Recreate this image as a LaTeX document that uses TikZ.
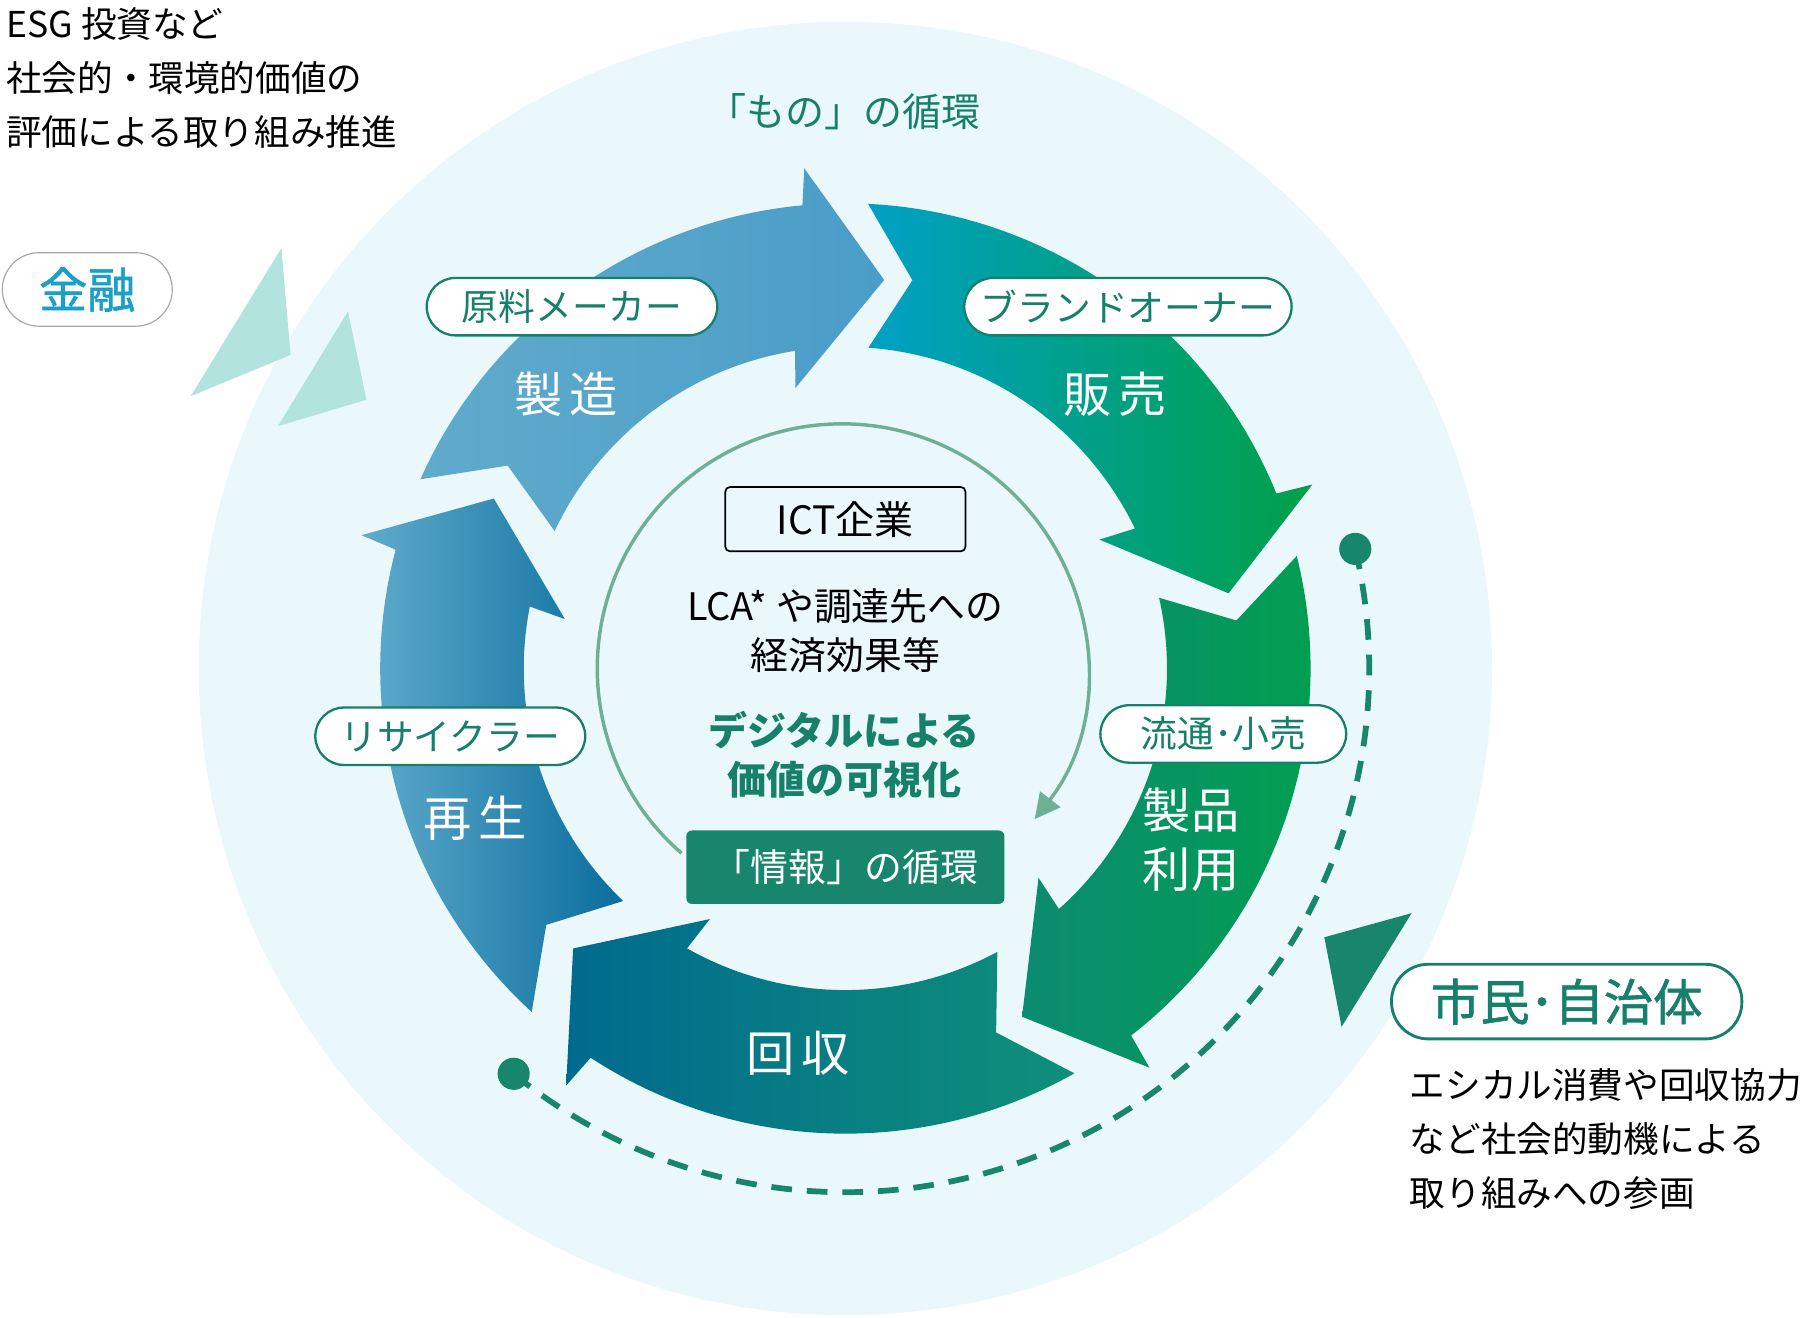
\documentclass[tikz,border=0pt]{standalone}
\usepackage{fontspec}
\setmainfont{Noto Sans CJK JP}
\newfontfamily\medjp[FakeBold=1.2]{Noto Sans CJK JP}
\usetikzlibrary{calc,arrows.meta}

\definecolor{bgcirc}{HTML}{EAF8FC}
\definecolor{tealtext}{HTML}{16806A}
\definecolor{tealbox}{HTML}{17866D}
\definecolor{lighttri}{HTML}{B2E3DC}
\definecolor{infogreen}{HTML}{6FAF95}
\definecolor{kinyublue}{HTML}{1A9FC9}
\definecolor{seizoL}{HTML}{60ABCC}
\definecolor{seizoR}{HTML}{4A9DC8}
\definecolor{hanbaiL}{HTML}{00A0C6}
\definecolor{hanbaiR}{HTML}{00A048}
\definecolor{riyoL}{HTML}{0B8B71}
\definecolor{riyoR}{HTML}{00A04D}
\definecolor{kaishuL}{HTML}{006A8E}
\definecolor{kaishuR}{HTML}{0F9078}
\definecolor{saiseiL}{HTML}{63AECE}
\definecolor{saiseiR}{HTML}{0A6D9D}

% ring arrow around (736,582): tail angle : tip angle
\def\cyclearrow[#1](#2:#3){%
  \pgfmathsetmacro\nA{#2+7}%
  \pgfmathsetmacro\iA{#2+1.3}%
  \pgfmathsetmacro\hoA{#3-11}%
  \pgfmathsetmacro\hiA{#3-14.7}%
  \pgfmathsetmacro\boA{#3-10.4}%
  \pgfmathsetmacro\biA{#3-15.8}%
  \shade[#1,shift={(736,582)}] (#2:405) arc[start angle=#2, end angle=\hoA, radius=405]
    -- (\boA:437) -- (#3:340) -- (\biA:248) -- (\hiA:280)
    arc[start angle=\hiA, end angle=\iA, radius=280] -- (\nA:343) -- cycle;}

\tikzset{
  pill/.style={draw=tealtext, line width=2pt, fill=white, rounded corners=25pt,
    minimum height=50pt, inner sep=0pt, text=tealtext, font=\fontsize{32}{32}\selectfont},
  stage/.style={text=white, font=\fontsize{42}{51}\selectfont, align=center},
  bodytext/.style={anchor=west, align=left, font=\fontsize{31}{47}\selectfont},
  dot/.style={circle, fill=tealbox, minimum size=28pt, inner sep=0pt},
  dashline/.style={tealbox, line width=5pt, dash pattern=on 18pt off 13pt},
  infoarc/.style={infogreen, line width=3pt, -{Triangle[length=22pt,width=22pt]}}
}

\begin{document}
\begin{tikzpicture}[x=1pt, y=-1pt]
		%%%%% START %%%%%
		\useasboundingbox (0,0) rectangle (1568,1147);
		\coordinate (C) at (736,582);
		\coordinate (I) at (733,582);
		
		\fill[bgcirc] (C) circle (563);
		
		\fill[lighttri] (245,216) -- (253,309) -- (166,345) -- cycle;
		\fill[lighttri] (303,271) -- (319,348) -- (242,371) -- cycle;
		\fill[tealbox] (1229,795) -- (1153,816) -- (1168,894) -- cycle;
		
		% the five stages
		\cyclearrow[left color=seizoL, right color=seizoR](204:275.7)
		\cyclearrow[left color=hanbaiL, right color=hanbaiR](272.8:348.9)
		\cyclearrow[left color=riyoL, right color=riyoR](346:423.1)
		\cyclearrow[left color=kaishuL, right color=kaishuR](60.5:134.2)
		\cyclearrow[left color=saiseiL, right color=saiseiR](132.4:205.8)
		
		% information loop
		\draw[infoarc] ($(I)+(131:213)$) arc[start angle=131, end angle=398, radius=213];
		
		% dashed path of citizens
		\node[dot] (dotA) at ($(C)+(-13.2:456)$) {};
		\node[dot] (dotB) at ($(C)+(129.3:456)$) {};
		\draw[dashline] (dotA.center) arc[start angle=-13.2, end angle=129.3, radius=456];
		
		\node[bodytext] (esg) at (2,68) {ESG 投資など\\社会的・環境的価値の\\評価による取り組み推進};
		\node[draw=gray!70, line width=1pt, fill=white, rounded corners=32pt, minimum width=148pt,
		  minimum height=64pt, text=kinyublue, font=\fontsize{42}{42}\medjp] (kinyu) at (76,252) {金融};
		\node[text=tealtext, font=\fontsize{34}{34}\selectfont] (monotitle) at (735,97) {「もの」の循環};
		
		\node[pill, minimum width=253pt] (genryo) at (498,267) {原料メーカー};
		\node[pill, minimum width=285pt] (brand) at (982,267) {ブランドオーナー};
		\node[pill, minimum width=214pt] (ryutsu) at (1065,639) {流通･小売};
		\node[pill, minimum width=235pt] (recycler) at (392,641) {リサイクラー};
		\node[pill, minimum width=305pt, minimum height=65pt, rounded corners=32pt, line width=2.5pt,
		  font=\fontsize{43}{43}\medjp] (shimin) at (1364,872) {市民･自治体};
		
		\node[stage] (seizo) at (493,343) {製\hspace{6pt}造};
		\node[stage] (hanbai) at (971,343) {販\hspace{6pt}売};
		\node[stage] (riyo) at (1037,731) {製品\\利用};
		\node[stage] (kaishu) at (695,917) {回\hspace{6pt}収};
		\node[stage] (saisei) at (414,712) {再\hspace{6pt}生};
		
		\node[draw=black, line width=1.5pt, rounded corners=4pt, minimum width=209pt, minimum height=56pt,
		  font=\fontsize{34}{34}\selectfont] (ict) at (736,452) {ICT企業};
		\node[align=center, font=\fontsize{33}{43}\selectfont] (lca) at (736,549) {LCA* や調達先への\\経済効果等};
		\node[align=center, text=tealtext, font=\fontsize{34}{43}\selectfont\bfseries] (digital) at (735,657) {デジタルによる\\価値の可視化};
		\node[fill=tealbox, rounded corners=5pt, minimum width=277pt, minimum height=64pt, text=white,
		  font=\fontsize{33}{33}\selectfont] (joho) at (736,755) {「情報」の循環};
		
		\node[bodytext] (ethical) at (1224,992) {エシカル消費や回収協力\\など社会的動機による\\取り組みへの参画};
		%%%%% END %%%%%
	\end{tikzpicture}
\end{document}
